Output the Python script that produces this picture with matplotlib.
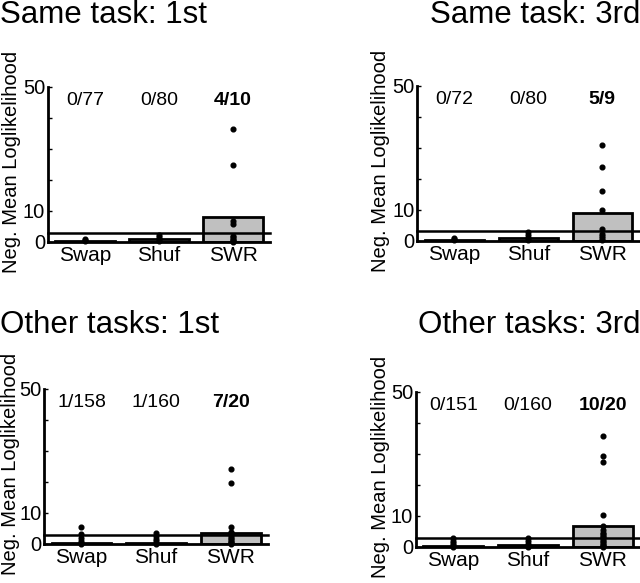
import matplotlib
matplotlib.use("Agg")
import matplotlib.pyplot as plt

plt.rcParams['font.family'] = ['Liberation Sans', 'DejaVu Sans']

categories = ["Swap", "Shuf", "SWR"]
threshold = 3.0

# panel titles
titles = ["Same task: 1st", "Same task: 3rd", "Other tasks: 1st", "Other tasks: 3rd"]

# count labels (above threshold / total) per panel
counts_a = ["0/77", "0/80", "4/10"]
counts_b = ["0/72", "0/80", "5/9"]
counts_c = ["1/158", "1/160", "7/20"]
counts_d = ["0/151", "0/160", "10/20"]

# bar heights (means) per panel
bars_a = [0.4, 0.9, 8.1]
bars_b = [0.4, 0.9, 8.8]
bars_c = [0.4, 0.4, 3.5]
bars_d = [0.3, 0.5, 6.8]

# visible individual points, per category
swap_a = [0.2, 0.6, 1.0]
shuf_a = [0.2, 0.8, 1.5, 2.3]
swr_a = [36.4, 24.8, 6.6, 5.8, 2.0, 1.5, 1.0, 0.6, 0.3, 0.1]

swap_b = [0.2, 0.6, 1.0]
shuf_b = [0.3, 1.0, 2.0, 2.8]
swr_b = [31.0, 23.9, 16.0, 9.8, 3.7, 2.2, 1.5, 0.9, 0.4]

swap_c = [5.6, 3.2, 2.0, 1.0, 0.3, 0.0]
shuf_c = [3.6, 2.5, 1.5, 0.8, 0.0]
swr_c = [24.1, 19.8, 5.6, 4.0, 3.6, 3.3, 3.1, 2.5, 2.0, 1.5, 1.0, 0.6, 0.3, 0.0]

swap_d = [2.9, 2.0, 1.2, 0.5, 0.0]
shuf_d = [2.8, 2.0, 1.0, 0.3, 0.0]
swr_d = [35.9, 29.4, 27.2, 10.3, 6.8, 5.5, 4.5, 4.0, 3.5, 3.2,
         2.5, 2.0, 1.5, 1.0, 0.5, 0.2, 0.0]

panels = [
    (counts_a, bars_a, [swap_a, shuf_a, swr_a]),
    (counts_b, bars_b, [swap_b, shuf_b, swr_b]),
    (counts_c, bars_c, [swap_c, shuf_c, swr_c]),
    (counts_d, bars_d, [swap_d, shuf_d, swr_d]),
]

# axes rectangles in figure fraction
rects = [
    [0.075, 0.585, 0.347, 0.266],
    [0.652, 0.587, 0.347, 0.266],
    [0.069, 0.067, 0.350, 0.266],
    [0.650, 0.062, 0.350, 0.266],
]
# right edge of the y label, in pixels left of the spine
label_off = [27, 27, 24, 26]

fig = plt.figure(figsize=(6.4, 5.83), dpi=100)

for i, (counts, bars, pts) in enumerate(panels):
    ax = fig.add_axes(rects[i])
    x = [1, 2, 3]
    ax.bar(x, bars, width=0.8, color='#c0c0c0', edgecolor='black', linewidth=2, zorder=2)
    ax.axhline(threshold, color='black', linewidth=1.8, zorder=3, clip_on=False)
    for xi, p in zip(x, pts):
        ax.plot([xi] * len(p), p, 'o', color='black', markersize=3.4, zorder=4, clip_on=False)
    for j, (xi, c) in enumerate(zip(x, counts)):
        ax.text(xi, 45.5, c, ha='center', va='center', fontsize=14,
                fontweight='bold' if j == 2 else 'normal')

    ax.set_xlim(0.5, 3.5)
    ax.set_ylim(0, 50)
    ax.set_xticks(x)
    ax.set_xticklabels(categories, fontsize=15)
    ax.set_yticks([0, 10, 20, 30, 40, 50])
    ax.set_yticklabels(["0", "10", "", "", "", "50"], fontsize=14.5)
    ax.tick_params(axis='y', direction='in', length=3, width=1, pad=2)
    ax.tick_params(axis='x', length=0, pad=3)
    for s in ['top', 'right']:
        ax.spines[s].set_visible(False)
    for s in ['left', 'bottom']:
        ax.spines[s].set_linewidth(2)
    ax.set_ylabel("Neg. Mean Loglikelihood", fontsize=14.5, labelpad=0)
    ax.yaxis.set_label_coords(-label_off[i] / (rects[i][2] * 640), 0.515)

fig.text(0.0, 1 - 23 / 583, titles[0], ha='left', va='baseline', fontsize=22.5)
fig.text(1.0, 1 - 23 / 583, titles[1], ha='right', va='baseline', fontsize=22.5)
fig.text(0.0, 1 - 333 / 583, titles[2], ha='left', va='baseline', fontsize=22.5)
fig.text(1.0, 1 - 333 / 583, titles[3], ha='right', va='baseline', fontsize=22.5)

fig.savefig("out.png", dpi=100)
